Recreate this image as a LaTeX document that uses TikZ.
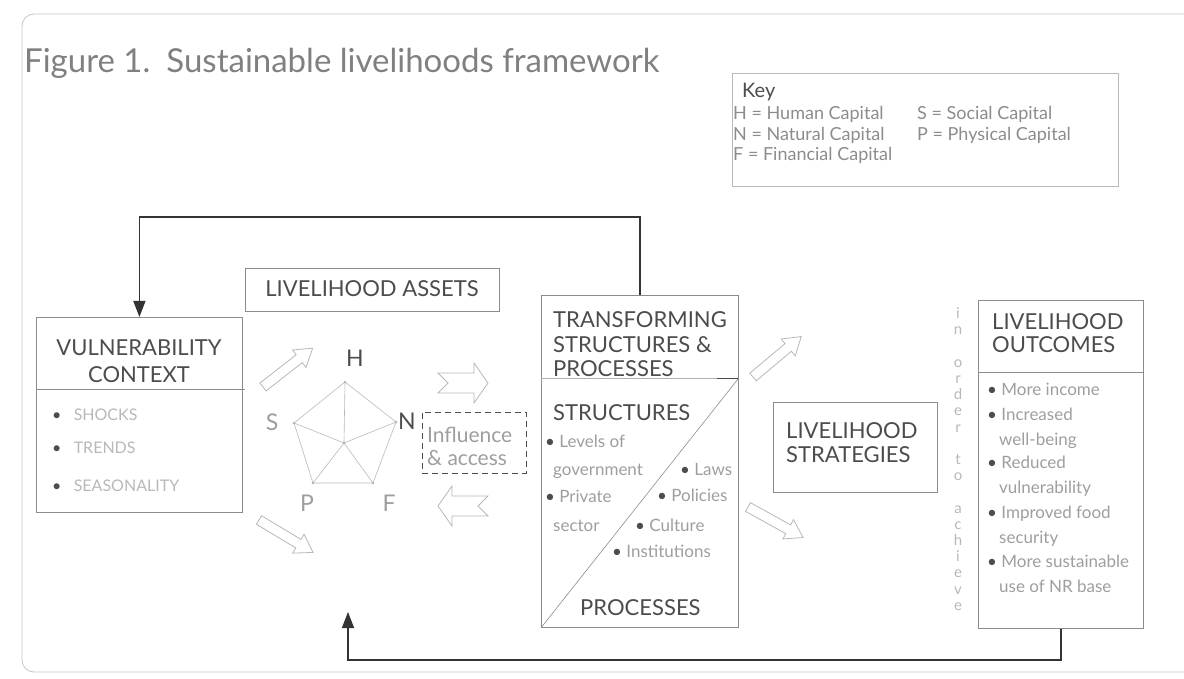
\documentclass[tikz,border=0pt]{standalone}
\usepackage{fontspec}
\setmainfont{Lato}
\usetikzlibrary{arrows.meta}
\definecolor{boxc}{gray}{0.55}
\definecolor{headc}{gray}{0.3}
\definecolor{itemc}{gray}{0.62}
\definecolor{faintc}{gray}{0.72}
\definecolor{keyc}{gray}{0.55}
\definecolor{titlec}{gray}{0.5}
\definecolor{connc}{gray}{0.2}
\newcommand\bul{\textcolor{headc}{•}}
\tikzset{
  box/.style={draw=boxc, line width=0.8pt, inner sep=0pt},
  head/.style={font=\fontsize{22}{25}\selectfont, text=headc, inner sep=0pt, anchor=base west},
  headc/.style={font=\fontsize{22}{25}\selectfont, text=headc, inner sep=0pt, anchor=base},
  item/.style={font=\fontsize{17}{20}\selectfont, text=itemc, inner sep=0pt, anchor=base west},
  vitem/.style={font=\fontsize{16}{20}\selectfont, text=faintc, inner sep=0pt, anchor=base west},
  keyitem/.style={font=\fontsize{18}{20}\selectfont, text=keyc, inner sep=0pt, anchor=base west},
  plab/.style={font=\fontsize{23}{25}\selectfont, inner sep=0pt},
  conn/.style={draw=connc, line width=1.3pt},
  tip/.style={-{Triangle[width=12pt,length=16pt]}},
  hollow/.style={draw=faintc, line width=0.8pt, fill=white},
  blockarrow/.pic={\path[hollow] (0,5) -- (46,5) -- (46,11) -- (63,0) -- (46,-11) -- (46,-5) -- (0,-5) -- cycle;},
  notcharrow/.pic={\path[hollow] (0,10) -- (36,10) -- (36,20) -- (50,0) -- (36,-20) -- (36,-10) -- (0,-10) -- (10,0) -- cycle;}
}
\begin{document}
\begin{tikzpicture}[x=1pt,y=-1pt]
\useasboundingbox (0,0) rectangle (1184,679);
\begin{scope}
  \clip (0,0) rectangle (1184,679);
  \draw[draw=gray!45, line width=0.8pt, rounded corners=12pt] (22,14) rectangle (1240,672);
\end{scope}

% title
\node[font=\fontsize{33}{38}\selectfont, text=titlec, inner sep=0pt, anchor=base west] (title) at (24,73)
  {Figure 1.\hspace{16pt}Sustainable livelihoods framework};

% key
\node[box, draw=gray!55, minimum width=386, minimum height=113, anchor=north west] (key) at (732,73) {};
\node[font=\fontsize{20}{22}\selectfont, text=headc, inner sep=0pt, anchor=base west] (keyt) at (742,98) {Key};
\node[keyitem] (k1) at (733,120) {H = Human Capital};
\node[keyitem] (k2) at (917,120) {S = Social Capital};
\node[keyitem] (k3) at (733,141) {N = Natural Capital};
\node[keyitem] (k4) at (917,141) {P = Physical Capital};
\node[keyitem] (k5) at (733,161) {F = Financial Capital};

% vulnerability context
\node[box, minimum width=206, minimum height=195, anchor=north west] (vuln) at (36,317) {};
\draw[draw=boxc, line width=0.8pt] (vuln.west |- 0,389) -- ([xshift=2pt]vuln.east |- 0,389);
\node[headc] (v1) at (139,355) {VULNERABILITY};
\node[headc] (v2) at (139,382) {CONTEXT};
\node[vitem] (v3) at (52,420) {\bul\ \ \ SHOCKS};
\node[vitem] (v4) at (52,453) {\bul\ \ \ TRENDS};
\node[vitem] (v5) at (52,491) {\bul\ \ \ SEASONALITY};

% livelihood assets
\node[box, minimum width=254, minimum height=43, anchor=north west] (assets) at (245,268) {};
\node[headc] (at) at (372,297) {LIVELIHOOD ASSETS};

% pentagon
\coordinate (pH) at (345,382);
\coordinate (pN) at (396,422);
\coordinate (pF) at (373,483);
\coordinate (pP) at (313,483);
\coordinate (pS) at (294,423);
\coordinate (pC) at (344,443);
\draw[draw=gray!55, line width=0.6pt] (pH) -- (pN) -- (pF) -- (pP) -- (pS) -- cycle;
\foreach \v in {pH,pN,pF,pP,pS} \draw[draw=gray!55, line width=0.6pt] (pC) -- (\v);
\foreach \v in {pH,pN,pF,pP,pS,pC} \fill[gray!60] (\v) circle (1.3pt);
\node[plab, text=headc] (lH) at (355,358) {H};
\node[plab, text=itemc] (lS) at (272,422) {S};
\node[plab, text=headc] (lN) at (407,421) {N};
\node[plab, text=itemc] (lP) at (307,503) {P};
\node[plab, text=itemc] (lF) at (389,503) {F};

% influence & access
\node[draw=headc, dash pattern=on 6pt off 4pt, line width=0.8pt, inner sep=0pt, minimum width=104, minimum height=61, anchor=north west] (infl) at (422,412) {};
\node[font=\fontsize{21}{24}\selectfont, text=itemc, inner sep=0pt, anchor=base west] (i1) at (427,442) {Influence};
\node[font=\fontsize{21}{24}\selectfont, text=itemc, inner sep=0pt, anchor=base west] (i2) at (427,465) {\& access};

% hollow arrows
\pic[rotate=38] at (263,387) {blockarrow};
\pic[rotate=-31] at (259,520) {blockarrow};
\pic at (438,383) {notcharrow};
\pic[rotate=180] at (488,506) {notcharrow};
\pic[rotate=40] at (753,377) {blockarrow};
\pic[rotate=-29] at (748,507) {blockarrow};

% transforming structures
\node[box, minimum width=197, minimum height=332, anchor=north west] (trans) at (541,295) {};
\draw[draw=boxc!70, line width=0.6pt] (trans.west |- 0,378) -- (trans.east |- 0,378);
\draw[draw=headc, line width=0.8pt] (717,378) -- (trans.east |- 0,378);
\draw[draw=boxc, line width=0.6pt] (trans.south west) -- (trans.east |- 0,378);
\node[head] (t1) at (553,327) {TRANSFORMING};
\node[head] (t2) at (553,352) {STRUCTURES \&};
\node[head] (t3) at (553,376) {PROCESSES};
\node[head] (t4) at (553,420) {STRUCTURES};
\node[item] (s1) at (545,447) {\bul\ Levels of};
\node[item] (s2) at (553,475) {government};
\node[item] (s3) at (680,475) {\bul\ Laws};
\node[item] (s4) at (545,502) {\bul\ Private};
\node[item] (s5) at (657,501) {\bul\ Policies};
\node[item] (s6) at (553,531) {sector};
\node[item] (s7) at (635,531) {\bul\ Culture};
\node[item] (s8) at (612,557) {\bul\ Institutions};
\node[head] (t5) at (580,615) {PROCESSES};

% livelihood strategies
\node[box, minimum width=164, minimum height=90, anchor=north west] (strat) at (773,402) {};
\node[head] (st1) at (786,438) {LIVELIHOOD};
\node[head] (st2) at (786,462) {STRATEGIES};

% in order to achieve
\node[font=\fontsize{15}{16.2}\selectfont, text=faintc, inner sep=0pt, align=center] (vtext) at (958,459)
  {i\\n\\\mbox{}\\o\\r\\d\\e\\r\\\mbox{}\\t\\o\\\mbox{}\\a\\c\\h\\i\\e\\v\\e};

% livelihood outcomes
\node[box, minimum width=165, minimum height=328, anchor=north west] (outc) at (978,300) {};
\draw[draw=boxc, line width=0.8pt] (outc.west |- 0,372) -- (outc.east |- 0,372);
\node[head] (o1) at (992,330) {LIVELIHOOD};
\node[head] (o2) at (992,352) {OUTCOMES};
\node[item] (b1) at (987,395) {\bul\ More income};
\node[item] (b2) at (987,420) {\bul\ Increased};
\node[item] (b3) at (999,445) {well-being};
\node[item] (b4) at (987,468) {\bul\ Reduced};
\node[item] (b5) at (999,493) {vulnerability};
\node[item] (b6) at (987,518) {\bul\ Improved food};
\node[item] (b7) at (999,543) {security};
\node[item] (b8) at (987,567) {\bul\ More sustainable};
\node[item] (b9) at (999,592) {use of NR base};

% feedback connectors
\draw[conn, tip] (trans.north) -- ++(0,-78) -| (vuln.north);
\coordinate (btip) at (348,612);
\draw[conn, tip] (outc.south) -- (outc.south |- 0,660) -| (btip);
\end{tikzpicture}
\end{document}
